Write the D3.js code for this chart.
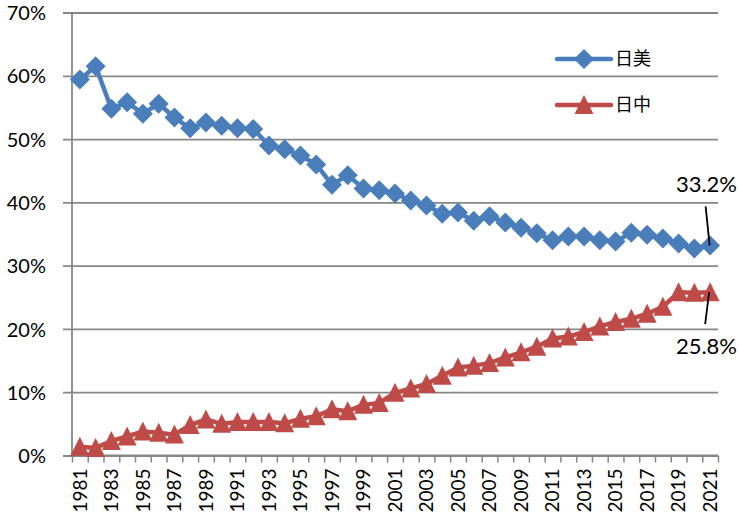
<!DOCTYPE html>
<html><head><meta charset="utf-8">
<script src="https://cdn.jsdelivr.net/npm/d3@7"></script>
<style>html,body{margin:0;padding:0;background:#fff;}</style>
</head><body>
<svg id="c" width="740" height="521"></svg>
<script>
const years = d3.range(1981, 2022);
const usShare = [59.4,61.5,54.8,55.8,54.0,55.6,53.4,51.7,52.6,52.1,51.7,51.6,49.0,48.4,47.4,46.0,42.8,44.3,42.2,41.9,41.4,40.3,39.5,38.2,38.4,37.1,37.8,36.8,36.0,35.1,34.0,34.6,34.6,34.0,33.8,35.2,34.9,34.3,33.5,32.7,33.2];
const cnShare = [1.4,1.2,2.3,3.0,3.8,3.6,3.3,4.8,5.7,5.0,5.3,5.3,5.3,5.1,5.8,6.2,7.3,7.0,8.0,8.3,9.9,10.6,11.3,12.6,13.9,14.2,14.6,15.5,16.3,17.2,18.5,18.8,19.5,20.4,21.1,21.6,22.4,23.5,25.8,25.7,25.8];
const seriesNames = ["日美", "日中"];
const yTicks = [0,10,20,30,40,50,60,70];
const endLabels = ["33.2%", "25.8%"];

const svg = d3.select("#c");
const L = 72, R = 718, T = 12.5, B = 455.5;
const blue = "#4A7EBB", red = "#BE4B48", grid = "#868686";
const numFont = "Lato, 'Open Sans', sans-serif";

const x = d3.scaleBand().domain(years).range([L, R]).padding(0);
const xb = d3.scaleLinear().domain([0, years.length]).range([L, R]);
const y = d3.scaleLinear().domain([0, 70]).range([B, T]);
const cx = d => x(d) + x.bandwidth() / 2;

// gridlines + y axis ticks
const yAxis = d3.axisLeft(y).tickValues(yTicks).tickSize(R - L + 9).tickFormat(d => d + "%");
const gy = svg.append("g").attr("transform", `translate(${R},0)`).call(yAxis);
gy.select(".domain").remove();
gy.selectAll(".tick line").attr("stroke", grid).attr("stroke-width", 1.8);
gy.selectAll(".tick text").attr("x", -(R - 46)).attr("dx", 0).attr("dy", "0.36em")
  .attr("font-family", numFont).attr("font-size", 20).attr("fill", "#000");

// y axis line
svg.append("line").attr("x1", L).attr("x2", L).attr("y1", T).attr("y2", B)
  .attr("stroke", grid).attr("stroke-width", 1.8);

// x axis: tick marks at category boundaries
const xAxisTicks = d3.axisBottom(xb).tickValues(d3.range(0, years.length + 1)).tickSize(7).tickFormat("");
const gx = svg.append("g").attr("transform", `translate(0,${B})`).call(xAxisTicks);
gx.select(".domain").attr("stroke", grid).attr("stroke-width", 1.8).attr("d", `M${L},0H${R}`);
gx.selectAll(".tick line").attr("stroke", grid).attr("stroke-width", 1.5);

// x labels (odd years)
const xAxisLabels = d3.axisBottom(x).tickValues(years.filter(d => d % 2 === 1)).tickSize(0);
const gxl = svg.append("g").attr("transform", `translate(0,${B})`).call(xAxisLabels);
gxl.select(".domain").remove();
gxl.selectAll(".tick text")
  .attr("transform", "rotate(-90)")
  .attr("text-anchor", "end")
  .attr("x", -13).attr("y", 0).attr("dy", "0.36em")
  .attr("font-family", numFont).attr("font-size", 19).attr("fill", "#000");

// lines
const line = d3.line().x((d, i) => cx(years[i])).y(d => y(d));
svg.append("path").datum(usShare).attr("d", line).attr("fill", "none")
  .attr("stroke", blue).attr("stroke-width", 4.5).attr("stroke-linejoin", "round");
svg.append("path").datum(cnShare).attr("d", line).attr("fill", "none")
  .attr("stroke", red).attr("stroke-width", 4.5).attr("stroke-linejoin", "round");

// markers
const diamond = "M0,-10L10,0L0,10L-10,0Z";
const tri = "M0,-10L9.5,9L-9.5,9Z";
svg.append("g").selectAll("path").data(usShare).join("path")
  .attr("d", diamond).attr("fill", blue)
  .attr("transform", (d, i) => `translate(${cx(years[i])},${y(d)})`);
svg.append("g").selectAll("path").data(cnShare).join("path")
  .attr("d", tri).attr("fill", red)
  .attr("transform", (d, i) => `translate(${cx(years[i])},${y(d)})`);

// legend
const leg = [{name: seriesNames[0], color: blue, shape: diamond, yy: 59},
             {name: seriesNames[1], color: red, shape: tri, yy: 105}];
leg.forEach(l => {
  svg.append("line").attr("x1", 557).attr("x2", 611).attr("y1", l.yy).attr("y2", l.yy)
    .attr("stroke", l.color).attr("stroke-width", 4.5).attr("stroke-linecap", "round");
  svg.append("path").attr("d", l.shape).attr("fill", l.color)
    .attr("transform", `translate(584,${l.yy})`);
  svg.append("text").attr("x", 615).attr("y", l.yy).attr("dy", "0.36em")
    .attr("font-family", "'Noto Sans CJK JP', sans-serif").attr("font-size", 18).attr("fill", "#000")
    .text(l.name);
});

// end labels with leader lines
const lastX = cx(years[years.length - 1]);
svg.append("line").attr("x1", lastX - 4.5).attr("y1", y(usShare[40]) - 39).attr("x2", lastX - 0.5).attr("y2", y(usShare[40]))
  .attr("stroke", "#000").attr("stroke-width", 1.8);
svg.append("text").attr("x", 737).attr("y", 192).attr("text-anchor", "end")
  .attr("font-family", numFont).attr("font-size", 22).attr("fill", "#000").text(endLabels[0]);
svg.append("line").attr("x1", lastX - 1).attr("y1", y(cnShare[40])).attr("x2", lastX - 5).attr("y2", y(cnShare[40]) + 32)
  .attr("stroke", "#000").attr("stroke-width", 1.8);
svg.append("text").attr("x", 737).attr("y", 354).attr("text-anchor", "end")
  .attr("font-family", numFont).attr("font-size", 22).attr("fill", "#000").text(endLabels[1]);
</script>
</body></html>
